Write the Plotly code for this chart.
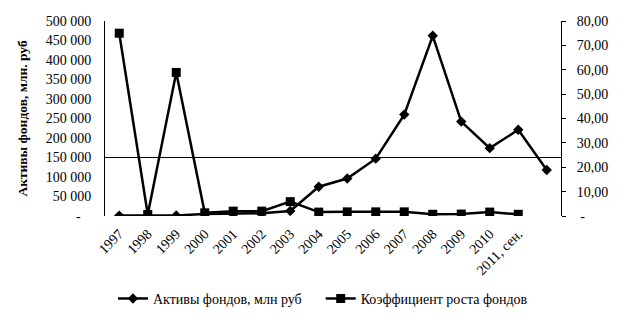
import plotly.graph_objects as go

categories = ["1997", "1998", "1999", "2000", "2001", "2002", "2003", "2004",
              "2005", "2006", "2007", "2008", "2009", "2010", "2011, сен.", ""]
assets = [1000, 1500, 1500, 5000, 6000, 7000, 13000, 75000,
          96000, 147000, 260000, 462000, 242000, 174000, 221000, 118000]
growth = [75.0, 0.6, 58.9, 1.3, 2.0, 2.0, 5.9, 1.6,
          1.7, 1.7, 1.7, 0.7, 0.8, 1.6, 0.7]

left_vals = [0, 50000, 100000, 150000, 200000, 250000, 300000, 350000, 400000, 450000, 500000]
left_text = ["-\u00a0\u00a0\u00a0"] + ["50 000", "100 000", "150 000", "200 000", "250 000",
                                        "300 000", "350 000", "400 000", "450 000", "500 000"]
right_vals = [0, 10, 20, 30, 40, 50, 60, 70, 80]
right_text = ["\u00a0-"] + ["10,00", "20,00", "30,00", "40,00", "50,00", "60,00", "70,00", "80,00"]

FONT = "Liberation Serif"
x_idx = list(range(len(categories)))

fig = go.Figure()
fig.add_trace(go.Scatter(
    x=x_idx, y=assets, name="Активы фондов, млн руб\u00a0\u00a0\u00a0\u00a0", mode="lines+markers",
    line=dict(color="black", width=2.5),
    marker=dict(symbol="diamond", size=8, color="black"),
    yaxis="y"))
fig.add_trace(go.Scatter(
    x=x_idx[:len(growth)], y=growth, name="Коэффициент роста фондов", mode="lines+markers",
    line=dict(color="black", width=2.5),
    marker=dict(symbol="square", size=9, color="black"),
    yaxis="y2"))

fig.add_shape(type="line", xref="paper", yref="y", x0=0, x1=1, y0=150000, y1=150000,
              line=dict(color="black", width=1))

fig.update_layout(
    width=623, height=317,
    margin=dict(l=97, r=70, t=6, b=109),
    plot_bgcolor="white", paper_bgcolor="white",
    font=dict(family=FONT, size=14, color="black"),
    showlegend=True,
    legend=dict(orientation="h", x=0.478, xanchor="center", y=-0.425, yanchor="middle",
                font=dict(family=FONT, size=14, color="black"), itemwidth=30),
    xaxis=dict(
        range=[-0.5, len(categories) - 0.5],
        tickmode="array", tickvals=x_idx, ticktext=categories, tickangle=-45,
        showgrid=False, zeroline=False, showline=False, ticks="",
        ticklabelstandoff=6,
        tickfont=dict(family=FONT, size=14)),
    yaxis=dict(
        range=[0, 500000], tickmode="array", tickvals=left_vals, ticktext=left_text,
        showgrid=False, zeroline=False, showline=True, linecolor="black", linewidth=1,
        ticks="", ticklabelstandoff=10, ticklabeloverflow="allow",
        tickfont=dict(family=FONT, size=14),
        title=dict(text="<b>Активы фондов, млн. руб</b>", font=dict(family=FONT, size=13.5),
                   standoff=14)),
    yaxis2=dict(
        range=[0, 80], overlaying="y", side="right",
        tickmode="array", tickvals=right_vals, ticktext=right_text,
        showgrid=False, zeroline=False, showline=True, linecolor="black", linewidth=1,
        ticks="outside", ticklen=4, tickcolor="black", ticklabelstandoff=8,
        ticklabeloverflow="allow",
        tickfont=dict(family=FONT, size=14)),
)

fig.write_html("out.html")
